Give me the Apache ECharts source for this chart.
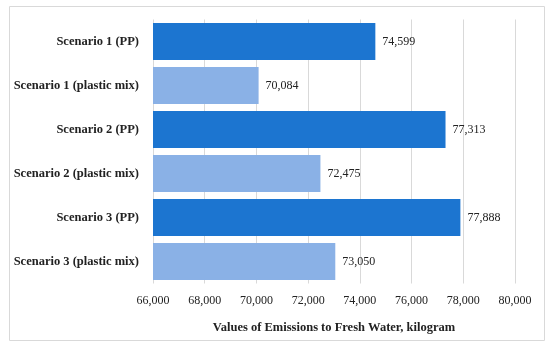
<!DOCTYPE html>
<html><head><meta charset="utf-8">
<script src="https://cdn.jsdelivr.net/npm/echarts@6/dist/echarts.min.js"></script>
<style>html,body{margin:0;padding:0;background:#fff}#c{width:550px;height:348px}</style>
</head><body><div id="c"></div>
<script>
const categories = ["Scenario 1 (PP)", "Scenario 1 (plastic mix)", "Scenario 2 (PP)", "Scenario 2 (plastic mix)", "Scenario 3 (PP)", "Scenario 3 (plastic mix)"];
const values = [74599, 70084, 77313, 72475, 77888, 73050];
const barColors = ["#1c75d0", "#8ab1e6", "#1c75d0", "#8ab1e6", "#1c75d0", "#8ab1e6"];
const axisTitle = "Values of Emissions to Fresh Water, kilogram";

const font = "'Liberation Serif','DejaVu Serif',serif";
const chart = echarts.init(document.getElementById('c'), null, {renderer: 'canvas'});
chart.setOption({
  animation: false,
  graphic: [{type: 'rect', shape: {x: 9.5, y: 6.5, width: 535, height: 334}, style: {fill: 'none', stroke: '#d9d9d9', lineWidth: 1}}],
  grid: {left: 153, right: 35, top: 19.5, bottom: 64.5},
  xAxis: {
    type: 'value', min: 66000, max: 80000, interval: 2000,
    axisLine: {show: false}, axisTick: {show: false},
    splitLine: {show: true, lineStyle: {color: '#d9d9d9', width: 1}},
    axisLabel: {color: '#222', fontFamily: font, fontSize: 12, margin: 11,
      formatter: v => v.toLocaleString('en-US')},
    name: axisTitle, nameLocation: 'middle', nameGap: 38,
    nameTextStyle: {color: '#222', fontFamily: font, fontSize: 12.5, fontWeight: 'bold'}
  },
  yAxis: {
    type: 'category', data: categories, inverse: true,
    axisLine: {show: false}, axisTick: {show: false},
    axisLabel: {color: '#222', fontFamily: font, fontSize: 12.5, fontWeight: 'bold', margin: 14}
  },
  series: [{
    type: 'bar', barWidth: 37,
    data: values.map((v, i) => ({value: v, itemStyle: {color: barColors[i]}})),
    label: {show: true, position: 'right', distance: 7, color: '#222', fontFamily: font, fontSize: 12,
      formatter: p => p.value.toLocaleString('en-US')}
  }]
});
</script></body></html>
